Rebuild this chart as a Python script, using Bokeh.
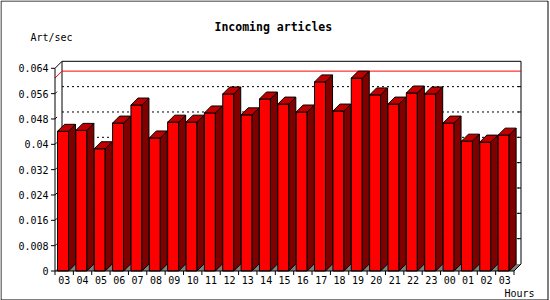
from bokeh.plotting import figure
from bokeh.models import Range1d
from bokeh.core.properties import value
from bokeh.embed import file_html
from bokeh.resources import INLINE

# ---------------- data ----------------
HOURS = ["03", "04", "05", "06", "07", "08", "09", "10", "11", "12", "13", "14", "15",
         "16", "17", "18", "19", "20", "21", "22", "23", "00", "01", "02", "03"]
ARTICLES = [0.0441, 0.0444, 0.0386, 0.0467, 0.0524, 0.0420, 0.0470, 0.0470, 0.0499,
            0.0559, 0.0493, 0.0543, 0.0527, 0.0502, 0.0597, 0.0505, 0.0609, 0.0556,
            0.0527, 0.0562, 0.0559, 0.0467, 0.0410, 0.0407, 0.0429]
Y_TICKS = [0, 0.008, 0.016, 0.024, 0.032, 0.04, 0.048, 0.056, 0.064]
Y_TICK_LABELS = ["0", "0.008", "0.016", "0.024", "0.032", "0.04", "0.048", "0.056", "0.064"]
TITLE = "Incoming articles"
Y_LABEL = "Art/sec"
X_LABEL = "Hours"

# ---------------- geometry ----------------
W, H = 550, 300
X0PX = 54.5          # image px of x = 0 (front axis)
Y0PX = 270.5         # image px of value 0
S = 18.36            # px per hour slot
K = 0.064 / 202.7    # value per px


def px_x(ix):  # image pixel -> data x
    return (ix - X0PX) / S


def px_y(iy):  # image pixel -> data y
    return (Y0PX - iy) * K


DX = 7 / S          # 3D depth, x
DY = 7 * K          # 3D depth, y
FRONT_OFF = 2.5 / S
FRONT_W = 11 / S
N = len(HOURS)
YMAX = Y_TICKS[-1]
FONT = "DejaVu Sans Mono"

p = figure(width=W, height=H, title=None, toolbar_location=None, output_backend="svg",
           x_range=Range1d(px_x(0), px_x(W)), y_range=Range1d(px_y(H), px_y(0)),
           min_border=0, x_axis_type=None, y_axis_type=None)
p.outline_line_color = None
p.grid.visible = False
p.background_fill_color = "white"
p.border_fill_color = "white"

# outer border
bx = [px_x(0.5), px_x(547.5), px_x(547.5), px_x(0.5), px_x(0.5)]
by = [px_y(0.5), px_y(0.5), px_y(299.5), px_y(299.5), px_y(0.5)]
p.line(bx, by, line_color="black", line_width=1)

# ---------------- floor ----------------
p.patch([0, N, N + DX, DX], [0, 0, DY, DY], fill_color="#808080", line_color=None)

# ---------------- back grid (dotted) ----------------
grid_levels = [t for t in Y_TICKS if 0 < t < YMAX]
ng = len(grid_levels)
p.segment(x0=[DX] * ng, y0=[t + DY for t in grid_levels],
          x1=[N + DX] * ng, y1=[t + DY for t in grid_levels],
          line_color="black", line_width=1, line_dash="2 3")
# small ticks at right back edge
p.segment(x0=[N + DX - 3 / S] * ng, y0=[t + DY for t in grid_levels],
          x1=[N + DX] * ng, y1=[t + DY for t in grid_levels],
          line_color="black", line_width=1)
# small diagonal stubs from the front axis
p.segment(x0=[0] * ng, y0=grid_levels, x1=[2 / S] * ng, y1=[t + 2 * K for t in grid_levels],
          line_color="black", line_width=1)

# ---------------- back frame ----------------
p.segment(x0=[DX, DX, N + DX, 0, N],
          y0=[YMAX + DY, DY, DY, YMAX, 0],
          x1=[N + DX, DX, N + DX, DX, N + DX],
          y1=[YMAX + DY, YMAX + DY, YMAX + DY, YMAX + DY, DY],
          line_color="black", line_width=1)

# ---------------- max line (red) ----------------
vmax = max(ARTICLES)
p.segment(x0=[DX, 0], y0=[vmax + DY, vmax], x1=[N + DX, DX], y1=[vmax + DY, vmax + DY],
          line_color="#ff0000", line_width=1)

# ---------------- bars ----------------
x0s = [i + FRONT_OFF for i in range(N)]
x1s = [x + FRONT_W for x in x0s]
p.quad(left=x0s, right=x1s, bottom=[0] * N, top=ARTICLES,
       fill_color="#ff0000", line_color="black", line_width=1)
side_xs = [[a, a + DX, a + DX, a] for a in x1s]
side_ys = [[0, DY, v + DY, v] for v in ARTICLES]
p.patches(side_xs, side_ys, fill_color="#800000", line_color="black", line_width=1)
top_xs = [[a, b, b + DX, a + DX] for a, b in zip(x0s, x1s)]
top_ys = [[v, v, v + DY, v + DY] for v in ARTICLES]
p.patches(top_xs, top_ys, fill_color="#c00000", line_color="black", line_width=1)

# ---------------- front axes ----------------
p.segment(x0=[0, 0], y0=[0, 0], x1=[N, 0], y1=[0, YMAX], line_color="black", line_width=1)
# x tick marks at slot boundaries
p.segment(x0=list(range(N + 1)), y0=[0] * (N + 1), x1=list(range(N + 1)), y1=[-4 * K] * (N + 1),
          line_color="black", line_width=1)
# y tick marks
nt = len(Y_TICKS)
p.segment(x0=[-4 / S] * nt, y0=Y_TICKS, x1=[0] * nt, y1=Y_TICKS, line_color="black", line_width=1)

# y tick labels
p.text(x=[-6.5 / S] * nt, y=Y_TICKS, text=Y_TICK_LABELS, text_font=value(FONT),
       text_font_size="10px", text_align="right", text_baseline="middle", text_color="black")
# x tick labels
p.text(x=[i + 0.5 for i in range(N)], y=[px_y(279.7)] * N, text=HOURS, text_font=value(FONT),
       text_font_size="10px", text_align="center", text_baseline="middle", text_color="black")

# ---------------- texts ----------------
p.text(x=[px_x(214)], y=[px_y(26.7)], text=[TITLE], text_font=value(FONT), text_font_size="11.5px",
       text_font_style="bold", text_align="left", text_baseline="middle", text_color="black")
p.text(x=[px_x(30)], y=[px_y(37)], text=[Y_LABEL], text_font=value(FONT), text_font_size="10px",
       text_align="left", text_baseline="middle", text_color="black")
p.text(x=[px_x(504)], y=[px_y(292.7)], text=[X_LABEL], text_font=value(FONT), text_font_size="10px",
       text_align="left", text_baseline="middle", text_color="black")

open("out.html", "w").write(file_html(p, INLINE))
